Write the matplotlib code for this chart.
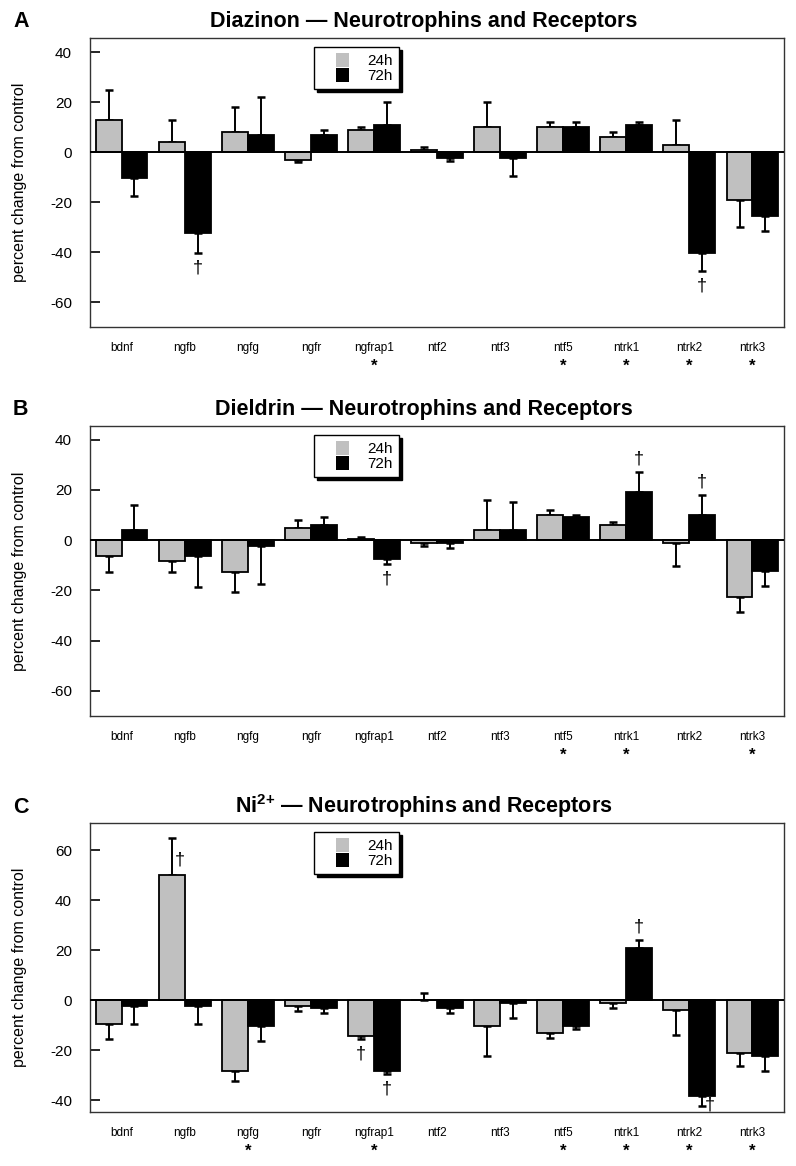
import matplotlib
matplotlib.use('Agg')
import matplotlib.pyplot as plt
import numpy as np
from matplotlib.patches import Patch, Rectangle
from matplotlib.legend_handler import HandlerPatch

plt.rcParams['font.family'] = ['Liberation Sans', 'DejaVu Sans']
plt.rcParams['mathtext.fontset'] = 'custom'
plt.rcParams['mathtext.rm'] = 'Liberation Sans'
plt.rcParams['mathtext.bf'] = 'Liberation Sans:bold'

# ---------------- data ----------------
genes = ['bdnf', 'ngfb', 'ngfg', 'ngfr', 'ngfrap1', 'ntf2', 'ntf3', 'ntf5', 'ntrk1', 'ntrk2', 'ntrk3']
series_labels = ['24h', '72h']

# Panel A: Diazinon
diaz_24 = [13, 4, 8, -3, 9, 1, 10, 10, 6, 3, -19]
diaz_24_err = [12, 9, 10, 1, 1, 1, 10, 2, 2, 10, 11]
diaz_72 = [-10.5, -32.5, 7, 7, 11, -2.5, -2.5, 10, 11, -40.5, -25.5]
diaz_72_err = [7, 8, 15, 2, 9, 1, 7, 2, 1, 7, 6]
diaz_sig = ['ngfrap1', 'ntf5', 'ntrk1', 'ntrk2', 'ntrk3']
diaz_dag = [('ngfb', '72h', 'below'), ('ntrk2', '72h', 'below')]

# Panel B: Dieldrin
diel_24 = [-6.5, -8.5, -12.5, 5, 0.3, -1.3, 4, 10, 6, -1.3, -22.5]
diel_24_err = [6, 4, 8, 3, 1, 1, 12, 2, 1, 9, 6]
diel_72 = [4, -6.5, -2.5, 6, -7.5, -1.3, 4, 9.2, 19, 10, -12.4]
diel_72_err = [10, 12, 15, 3, 2, 2, 11, 0.7, 8, 8, 6]
diel_sig = ['ntf5', 'ntrk1', 'ntrk3']
diel_dag = [('ngfrap1', '72h', 'below'), ('ntrk1', '72h', 'above'), ('ntrk2', '72h', 'above')]

# Panel C: Ni2+
ni_24 = [-9.5, 50, -28.5, -2.5, -14.5, 0, -10.5, -13.3, -1.2, -4, -21.3]
ni_24_err = [6, 15, 4, 2, 1, 3, 12, 2, 2, 10, 5]
ni_72 = [-2.5, -2.5, -10.5, -3.3, -28.5, -3.3, -1.2, -10.4, 21, -38.5, -22.3]
ni_72_err = [7, 7, 6, 2, 1, 2, 6, 1, 3, 4, 6]
ni_sig = ['ngfg', 'ngfrap1', 'ntf5', 'ntrk1', 'ntrk2', 'ntrk3']
ni_dag = [('ngfb', '24h', 'upright'), ('ngfrap1', '24h', 'below'), ('ngfrap1', '72h', 'below'),
          ('ntrk1', '72h', 'above'), ('ntrk2', '72h', 'right')]

panels = [
    dict(letter='A', title='Diazinon \u2014 Neurotrophins and Receptors',
         v24=diaz_24, e24=diaz_24_err, v72=diaz_72, e72=diaz_72_err,
         sig=diaz_sig, dag=diaz_dag, ylim=(-70, 45.6), yticks=[-60, -40, -20, 0, 20, 40]),
    dict(letter='B', title='Dieldrin \u2014 Neurotrophins and Receptors',
         v24=diel_24, e24=diel_24_err, v72=diel_72, e72=diel_72_err,
         sig=diel_sig, dag=diel_dag, ylim=(-70, 45.4), yticks=[-60, -40, -20, 0, 20, 40]),
    dict(letter='C', title='Ni$^{\\mathbf{2{+}}}$ \u2014 Neurotrophins and Receptors',
         v24=ni_24, e24=ni_24_err, v72=ni_72, e72=ni_72_err,
         sig=ni_sig, dag=ni_dag, ylim=(-44.8, 70.8), yticks=[-40, -20, 0, 20, 40, 60]),
]

# ---------------- layout ----------------
W, H = 796, 1166
fig = plt.figure(figsize=(W / 100, H / 100), dpi=100)

axes_px = [(90, 38, 784, 327), (90, 426, 784, 716), (90, 823, 784, 1112)]
title_base = [27, 415, 813]

GRAY = '#c0c0c0'
BLACK = '#000000'
bw = 0.41

dag_offsets = {'below': (0, -15), 'above': (0, 13), 'upright': (8, -22), 'right': (8, 1)}


def square_right(legend, orig_handle, xdescent, ydescent, width, height, fontsize):
    size = height
    return Rectangle((-xdescent + width - size, -ydescent), size, size)


for p, (l, t, r, b), tb in zip(panels, axes_px, title_base):
    ax = fig.add_axes([l / W, 1 - b / H, (r - l) / W, (b - t) / H])
    x = np.arange(len(genes))
    v24 = np.array(p['v24']); v72 = np.array(p['v72'])
    e24 = np.array(p['e24']); e72 = np.array(p['e72'])

    ax.bar(x - bw / 2, v24, width=bw, color=GRAY, edgecolor='black', linewidth=1.3, zorder=3)
    ax.bar(x + bw / 2, v72, width=bw, color=BLACK, edgecolor='black', linewidth=1.3, zorder=3)

    for xs, vals, errs in ((x - bw / 2, v24, e24), (x + bw / 2, v72, e72)):
        lower = np.where(vals < 0, errs, 0)
        upper = np.where(vals >= 0, errs, 0)
        ax.errorbar(xs, vals, yerr=[lower, upper], fmt='none', ecolor='black',
                    elinewidth=1.4, capsize=3.2, capthick=1.8, zorder=2)

    ax.axhline(0, color='black', linewidth=1.4, zorder=4)
    ax.set_xlim(-0.5, len(genes) - 0.5)
    ax.set_ylim(*p['ylim'])
    ax.set_yticks(p['yticks'])
    ax.set_yticklabels([str(v) for v in p['yticks']], fontsize=11)
    ax.tick_params(axis='y', direction='in', length=7, width=1.2, pad=13)
    ax.set_xticks(x)
    ax.set_xticklabels(genes, fontsize=8.5)
    ax.tick_params(axis='x', length=0, pad=11)
    for s in ax.spines.values():
        s.set_color('#333333')
        s.set_linewidth(1.0)
    ax.set_ylabel('percent change from control', fontsize=11.5)
    ax.yaxis.set_label_coords(-0.091, 0.5)

    # significance asterisks
    for g in p['sig']:
        i = genes.index(g)
        ax.annotate('*', xy=(x[i], 0), xycoords=('data', 'axes fraction'),
                    xytext=(0, -28.5), textcoords='offset points',
                    ha='center', va='center', fontsize=12, fontweight='bold')

    # daggers
    for g, s, side in p['dag']:
        i = genes.index(g)
        if s == '24h':
            xx, vv, ee = x[i] - bw / 2, v24[i], e24[i]
        else:
            xx, vv, ee = x[i] + bw / 2, v72[i], e72[i]
        yend = vv - ee if vv < 0 else vv + ee
        dx, dy = dag_offsets[side]
        ax.annotate('\u2020', xy=(xx, yend), xytext=(dx * 0.72, dy * 0.72),
                    textcoords='offset points', ha='center', va='center', fontsize=13)

    handles = [Patch(facecolor=GRAY, edgecolor='none'), Patch(facecolor=BLACK, edgecolor='none')]
    leg = ax.legend(handles, series_labels, loc='upper left',
                    bbox_to_anchor=(0.323, 1 - 9 / (b - t)), fontsize=11,
                    frameon=True, fancybox=False, edgecolor='black', framealpha=1,
                    shadow={'color': 'black', 'alpha': 1},
                    handler_map={Patch: HandlerPatch(patch_func=square_right)},
                    handlelength=1.9, handleheight=1.0, handletextpad=1.2,
                    labelspacing=0.0, borderpad=0.4, borderaxespad=0)
    leg.get_frame().set_linewidth(1.0)
    leg.set_zorder(10)

    fig.text(424 / W, 1 - tb / H, p['title'], ha='center', va='baseline',
             fontsize=15.5, fontweight='bold')
    fig.text(13 / W, 1 - tb / H, p['letter'], ha='left', va='baseline',
             fontsize=15.5, fontweight='bold')

fig.savefig('out.png', dpi=100)
